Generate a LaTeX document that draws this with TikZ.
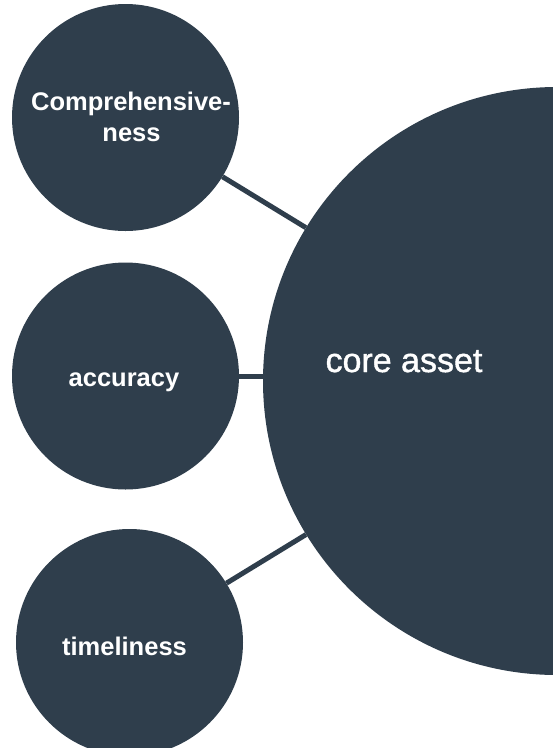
\documentclass[tikz,border=0pt]{standalone}
\usepackage{fontspec}
\setmainfont{Liberation Sans}
\newfontfamily\corefont[FakeBold=1.2]{Liberation Sans}
\definecolor{slate}{HTML}{2F3E4C}
\tikzset{
  bubble/.style={circle, fill=slate, draw=none, inner sep=0pt},
  small/.style={bubble, minimum size=227pt},
  big/.style={bubble, minimum size=588pt},
  link/.style={draw=slate, line width=5pt},
  tag/.style={text=white, font=\fontsize{25.5pt}{31.5pt}\selectfont\bfseries, align=center, anchor=base, inner sep=0pt},
  coretag/.style={text=white, font=\corefont\fontsize{34pt}{40pt}\selectfont, anchor=base, inner sep=0pt}
}
\begin{document}
\begin{tikzpicture}[x=1pt, y=-1pt]
  \useasboundingbox (0,0) rectangle (553,748);
  \clip (0,0) rectangle (553,748);
  \fill[white] (0,0) rectangle (553,748);

  % bubbles
  \node[big]   (core) at (557,381) {};
  \node[small] (comp) at (125.5,117.5) {};
  \node[small] (acc)  at (125.5,376) {};
  \node[small] (time) at (129.5,642.5) {};

  % connectors
  \draw[link] (comp) -- (core);
  \draw[link] (acc.east) -- (acc -| core.west);
  \draw[link] (time) -- (core);

  % labels
  \node[tag] (compA) at (131,110) {Comprehensive-};
  \node[tag] (compB) at (131.5,141.5) {ness};
  \node[tag] (accT)  at (124,386.5) {accuracy};
  \node[tag] (timeT) at (124.5,655) {timeliness};
  \node[coretag] (coreT) at (404,372) {core asset};
\end{tikzpicture}
\end{document}
